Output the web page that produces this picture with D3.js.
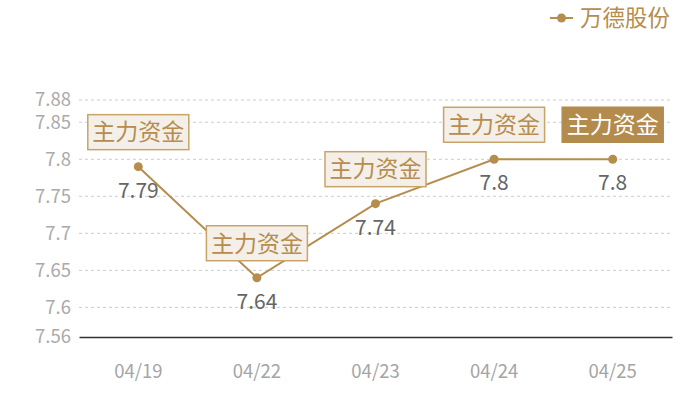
<!DOCTYPE html>
<html>
<head>
<meta charset="utf-8">
<script src="https://cdn.jsdelivr.net/npm/d3@7"></script>
<style>
  body { margin: 0; background: #fff; }
  text { font-family: "Noto Sans CJK SC", "Noto Sans", sans-serif; }
</style>
</head>
<body>
<div id="chart"></div>
<script>
// data
const dates = ["04/19", "04/22", "04/23", "04/24", "04/25"];
const prices = [7.79, 7.64, 7.74, 7.8, 7.8];
const yTicks = [7.56, 7.6, 7.65, 7.7, 7.75, 7.8, 7.85, 7.88];
const seriesName = "万德股份";
const flagText = "主力资金";
const flagFilled = [false, false, false, false, true];

const width = 700, height = 400;
const gold = "#b68d4c";

const svg = d3.select("#chart").append("svg")
    .attr("width", width)
    .attr("height", height);

const x = d3.scaleBand().domain(dates).range([79, 672]);
const y = d3.scaleLinear().domain([7.56, 7.88]).range([337, 100]);

// grid lines
svg.append("g")
    .selectAll("line")
    .data(yTicks.slice(1))
    .enter()
    .append("line")
    .attr("x1", 79)
    .attr("x2", 672)
    .attr("y1", d => y(d))
    .attr("y2", d => y(d))
    .attr("stroke", "#ccc")
    .attr("stroke-dasharray", "3,3");

// y axis labels
const yAxis = svg.append("g")
    .attr("transform", "translate(79,0)")
    .call(d3.axisLeft(y).tickValues(yTicks).tickFormat(d => d).tickSize(0).tickPadding(8));
yAxis.select(".domain").remove();
yAxis.selectAll("text")
    .attr("fill", "#aaa")
    .style("font-size", "18.5px");

// x axis
const xAxis = svg.append("g")
    .attr("transform", "translate(0,337)")
    .call(d3.axisBottom(x).tickSize(0).tickPadding(28));
xAxis.select(".domain").attr("stroke", "#333").attr("stroke-width", 1.5);
xAxis.selectAll("text")
    .attr("fill", "#a5a5a5")
    .style("font-size", "18.5px");

const cx = d => x(d) + x.bandwidth() / 2;

// line
const line = d3.line()
    .x((d, i) => cx(dates[i]))
    .y(d => y(d));

svg.append("path")
    .datum(prices)
    .attr("d", line)
    .attr("fill", "none")
    .attr("stroke", gold)
    .attr("stroke-width", 2);

svg.append("g")
    .selectAll("circle")
    .data(prices)
    .enter()
    .append("circle")
    .attr("cx", (d, i) => cx(dates[i]))
    .attr("cy", d => y(d))
    .attr("r", 4.5)
    .attr("fill", gold);

// value labels
svg.append("g")
    .selectAll("text")
    .data(prices)
    .enter()
    .append("text")
    .attr("x", (d, i) => cx(dates[i]))
    .attr("y", d => y(d) + 31)
    .attr("text-anchor", "middle")
    .attr("fill", "#666")
    .style("font-size", "21px")
    .text(d => d);

// flags above the points
const boxW = 101, boxH = 35;
const flags = svg.append("g")
    .selectAll("g")
    .data(prices)
    .enter()
    .append("g")
    .attr("transform", (d, i) => `translate(${cx(dates[i])},${y(d) - 17 - boxH})`);

flags.append("rect")
    .attr("x", -boxW / 2)
    .attr("width", boxW)
    .attr("height", boxH)
    .attr("fill", (d, i) => flagFilled[i] ? "#b38b4d" : "#f4efe9")
    .attr("stroke", (d, i) => flagFilled[i] ? "#b38b4d" : "#c9a469")
    .attr("stroke-width", 1.5);

flags.append("text")
    .attr("y", boxH / 2)
    .attr("dy", "0.36em")
    .attr("text-anchor", "middle")
    .attr("fill", (d, i) => flagFilled[i] ? "#fff" : "#b68d4c")
    .style("font-size", "23px")
    .text(flagText);

// legend
const legend = svg.append("g").attr("transform", "translate(550,18)");
legend.append("line")
    .attr("x1", 0).attr("x2", 23)
    .attr("stroke", gold).attr("stroke-width", 2);
legend.append("circle")
    .attr("cx", 11.5).attr("r", 4.5).attr("fill", gold);
legend.append("text")
    .attr("x", 30)
    .attr("dy", "0.36em")
    .attr("fill", gold)
    .style("font-size", "22.5px")
    .text(seriesName);
</script>
</body>
</html>
